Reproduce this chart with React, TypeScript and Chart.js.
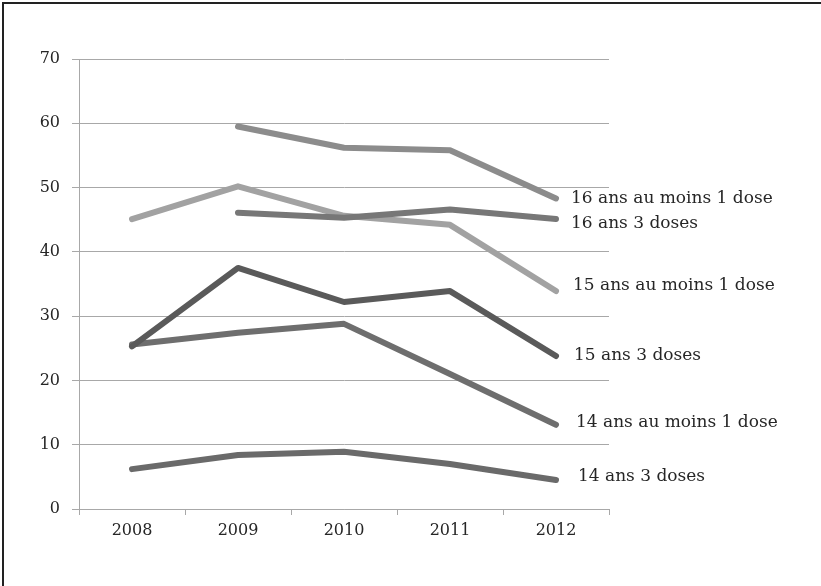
import React, { useEffect, useRef } from "react";
import { Chart, registerables } from "chart.js";

Chart.register(...registerables);

const years = ["2008", "2009", "2010", "2011", "2012"];
const yTicks = [0, 10, 20, 30, 40, 50, 60, 70];

const s16Min1 = [null, 59.5, 56.2, 55.8, 48.3];
const s16Dose3 = [null, 46.1, 45.3, 46.6, 45.1];
const s15Min1 = [45.1, 50.2, 45.6, 44.2, 33.9];
const s15Dose3 = [25.3, 37.5, 32.2, 33.9, 23.8];
const s14Min1 = [25.6, 27.4, 28.8, 21.0, 13.1];
const s14Dose3 = [6.2, 8.4, 8.9, 7.0, 4.5];

const seriesNames = [
  "16 ans au moins 1 dose",
  "16 ans 3 doses",
  "15 ans au moins 1 dose",
  "15 ans 3 doses",
  "14 ans au moins 1 dose",
  "14 ans 3 doses",
];
const seriesData = [s16Min1, s16Dose3, s15Min1, s15Dose3, s14Min1, s14Dose3];
const seriesColors = ["#8c8c8c", "#777777", "#a2a2a2", "#5a5a5a", "#6e6e6e", "#6a6a6a"];
const labelDx = [15, 15, 17, 18, 20, 22];
const labelDy = [0, 5, -5, 0, -2, -3];

const FONT = "'DejaVu Serif', serif";

const endLabels = {
  id: "endLabels",
  afterDatasetsDraw(chart: any) {
    const ctx = chart.ctx;
    ctx.save();
    ctx.font = `17px ${FONT}`;
    ctx.fillStyle = "#262626";
    ctx.textBaseline = "middle";
    ctx.textAlign = "left";
    chart.data.datasets.forEach((ds: any, i: number) => {
      const meta = chart.getDatasetMeta(i);
      const pt = meta.data[meta.data.length - 1];
      ctx.fillText(ds.label, pt.x + labelDx[i], pt.y + labelDy[i]);
    });
    ctx.restore();
  },
};

const frame = {
  id: "frame",
  beforeDraw(chart: any) {
    const ctx = chart.ctx;
    ctx.save();
    ctx.fillStyle = "#ffffff";
    ctx.fillRect(0, 0, chart.width, chart.height);
    ctx.strokeStyle = "#222222";
    ctx.lineWidth = 2;
    ctx.beginPath();
    ctx.moveTo(3, chart.height);
    ctx.lineTo(3, 3);
    ctx.lineTo(chart.width, 3);
    ctx.stroke();
    ctx.restore();
  },
};

export default function App() {
  const ref = useRef<HTMLCanvasElement>(null);
  useEffect(() => {
    document.body.style.margin = "0";
    const chart = new Chart(ref.current!, {
      type: "line",
      data: {
        labels: years,
        datasets: seriesData.map((d, i) => ({
          label: seriesNames[i],
          data: d,
          borderColor: seriesColors[i],
          backgroundColor: seriesColors[i],
          borderWidth: 6,
          borderCapStyle: "round",
          borderJoinStyle: "round",
          pointRadius: 0,
          tension: 0,
          spanGaps: false,
        })),
      },
      options: {
        animation: false,
        responsive: false,
        devicePixelRatio: 1,
        layout: { padding: { left: 0, right: 212, top: 59, bottom: 37 } },
        plugins: { legend: { display: false }, tooltip: { enabled: false } },
        scales: {
          x: {
            offset: true,
            grid: {
              offset: true,
              drawOnChartArea: false,
              drawTicks: true,
              tickLength: 6,
              color: "#a8a8a8",
            },
            border: { color: "#a8a8a8", width: 1 },
            ticks: {
              color: "#262626",
              font: { family: FONT, size: 16 },
              padding: 6,
              maxRotation: 0,
            },
            afterFit(scale: any) {
              scale.height = 40;
            },
          },
          y: {
            min: 0,
            max: 70,
            afterBuildTicks(scale: any) {
              scale.ticks = yTicks.map((v) => ({ value: v }));
            },
            grid: { color: "#a8a8a8", tickLength: 7, lineWidth: 1 },
            border: { color: "#a8a8a8", width: 1 },
            ticks: {
              color: "#262626",
              font: { family: FONT, size: 16 },
              padding: 12,
            },
            afterFit(scale: any) {
              scale.width = 79;
            },
          },
        },
      },
      plugins: [frame, endLabels],
    } as any);
    return () => chart.destroy();
  }, []);
  return <canvas ref={ref} width={821} height={586} style={{ display: "block" }} />;
}
